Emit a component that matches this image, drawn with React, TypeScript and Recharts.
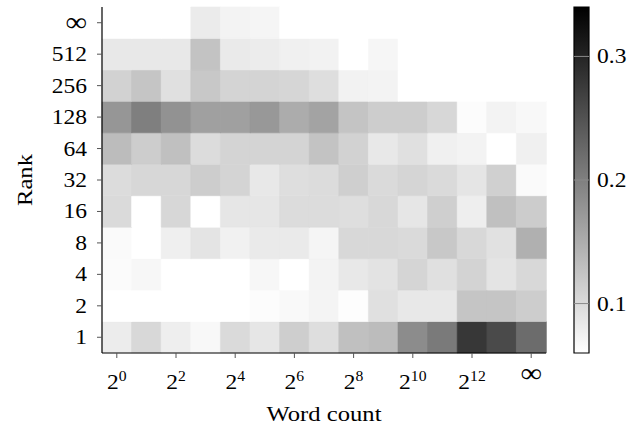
import React from 'react';
import { BarChart, Bar, XAxis, YAxis, Cell } from 'recharts';

// Word-count bins (exponent of 2, last is infinity)
const wordCountBins = ['0', '1', '2', '3', '4', '5', '6', '7', '8', '9', '10', '11', '12', '13', '∞'];
// Rank bins, bottom to top
const rankLabels = ['1', '2', '4', '8', '16', '32', '64', '128', '256', '512', '∞'];

// Cell values per rank row (one value per word-count bin)
const rank1 = [0.081, 0.103, 0.079, 0.068, 0.101, 0.087, 0.114, 0.096, 0.129, 0.134, 0.186, 0.206, 0.280, 0.259, 0.221];
const rank2 = [0.060, 0.060, 0.060, 0.060, 0.060, 0.063, 0.067, 0.072, 0.062, 0.094, 0.085, 0.085, 0.124, 0.124, 0.115];
const rank4 = [0.064, 0.069, 0.060, 0.060, 0.060, 0.069, 0.060, 0.073, 0.085, 0.091, 0.106, 0.094, 0.108, 0.090, 0.103];
const rank8 = [0.065, 0.060, 0.078, 0.090, 0.075, 0.083, 0.083, 0.071, 0.103, 0.103, 0.101, 0.120, 0.103, 0.093, 0.147];
const rank16 = [0.101, 0.060, 0.104, 0.060, 0.087, 0.087, 0.098, 0.098, 0.096, 0.103, 0.087, 0.113, 0.079, 0.129, 0.116];
const rank32 = [0.098, 0.104, 0.104, 0.115, 0.107, 0.085, 0.096, 0.098, 0.113, 0.101, 0.106, 0.101, 0.089, 0.112, 0.065];
const rank64 = [0.134, 0.115, 0.129, 0.098, 0.107, 0.107, 0.107, 0.126, 0.109, 0.085, 0.094, 0.076, 0.073, 0.060, 0.076];
const rank128 = [0.175, 0.201, 0.180, 0.164, 0.164, 0.173, 0.151, 0.161, 0.125, 0.115, 0.115, 0.104, 0.063, 0.073, 0.068];
const rank256 = [0.109, 0.124, 0.094, 0.120, 0.107, 0.107, 0.105, 0.096, 0.074, 0.073, 0.060, 0.060, 0.060, 0.060, 0.060];
const rank512 = [0.085, 0.085, 0.085, 0.126, 0.083, 0.081, 0.076, 0.074, 0.060, 0.070, 0.060, 0.060, 0.060, 0.060, 0.060];
const rankInf = [0.060, 0.060, 0.060, 0.082, 0.073, 0.071, 0.060, 0.060, 0.060, 0.060, 0.060, 0.060, 0.060, 0.060, 0.060];

const rankRows = [rank1, rank2, rank4, rank8, rank16, rank32, rank64, rank128, rank256, rank512, rankInf];

// Colour scale
const colorMin = 0.06;
const colorMax = 0.34;
const colorTicks = [0.1, 0.2, 0.3];

const FONT = "'Liberation Serif', 'Times New Roman', serif";
const SX = 1.12;

const shade = (v: number) => {
  const t = Math.min(1, Math.max(0, (v - colorMin) / (colorMax - colorMin)));
  const g = Math.round(255 * (1 - t));
  return `rgb(${g},${g},${g})`;
};

// one unit-height segment per rank, stacked
const heatData = wordCountBins.map((bin) => {
  const d: Record<string, any> = { bin };
  rankRows.forEach((_, ri) => {
    d[`r${ri}`] = 1;
  });
  return d;
});

const yTicks = rankLabels.map((_, i) => i + 0.5);

const XTick = (props: any) => {
  const { x, y, payload } = props;
  const v = String(payload.value);
  if (v === '∞') {
    return (
      <g transform={`translate(${x},${y + 24}) scale(${SX},1)`}>
        <text textAnchor="middle" fontFamily={FONT} fontSize={27} fill="#000">∞</text>
      </g>
    );
  }
  return (
    <g transform={`translate(${x},${y + 31}) scale(${SX},1)`}>
      <text textAnchor="middle" fontFamily={FONT} fontSize={21} fill="#000">
        2<tspan fontSize={14} dy={-8}>{v}</tspan>
      </text>
    </g>
  );
};

const YTick = (props: any) => {
  const { x, y, payload } = props;
  const idx = Math.floor(payload.value);
  const label = rankLabels[idx];
  if (label === '∞') {
    return (
      <g transform={`translate(${x - 10},${y + 8}) scale(${SX},1)`}>
        <text textAnchor="end" fontFamily={FONT} fontSize={27} fill="#000">∞</text>
      </g>
    );
  }
  return (
    <g transform={`translate(${x - 10},${y + 7}) scale(${SX},1)`}>
      <text textAnchor="end" fontFamily={FONT} fontSize={21} fill="#000">{label}</text>
    </g>
  );
};

const CbTick = (props: any) => {
  const { x, y, payload } = props;
  return (
    <g>
      <line x1={x - 15} x2={x} y1={y} y2={y} stroke="#8a8a8a" strokeWidth={1} />
      <g transform={`translate(${x + 8},${y + 7}) scale(${SX},1)`}>
        <text textAnchor="start" fontFamily={FONT} fontSize={21} fill="#000">{String(payload.value)}</text>
      </g>
    </g>
  );
};

const XLabel = (props: any) => {
  const vb = props.viewBox || {};
  const cx = vb.x + vb.width / 2;
  return (
    <g transform={`translate(${cx},421) scale(${SX},1)`}>
      <text textAnchor="middle" fontFamily={FONT} fontSize={22} fill="#000">Word count</text>
    </g>
  );
};

const YLabel = (props: any) => {
  return (
    <g transform={`translate(32,180) rotate(-90) scale(${SX},1)`}>
      <text textAnchor="middle" fontFamily={FONT} fontSize={22} fill="#000">Rank</text>
    </g>
  );
};

export default function App() {
  return (
    <div style={{ position: 'absolute', left: 0, top: 0, width: 642, height: 433, background: '#fff' }}>
      <div style={{ position: 'absolute', left: 0, top: 0 }}>
        <BarChart
          width={642}
          height={433}
          data={heatData}
          margin={{ top: 7, right: 96, bottom: 0, left: 0 }}
          barCategoryGap={0}
          barGap={0}
        >
          {rankRows.map((row, ri) => (
            <Bar key={ri} dataKey={`r${ri}`} stackId="s" isAnimationActive={false}>
              {row.map((v, ci) => (
                <Cell key={ci} fill={shade(v)} stroke={shade(v)} strokeWidth={0.6} />
              ))}
            </Bar>
          ))}
          <XAxis
            dataKey="bin"
            type="category"
            height={80}
            interval={1}
            tickSize={5}
            tickMargin={0}
            tickLine={{ stroke: '#555' }}
            axisLine={{ stroke: '#000', strokeWidth: 1.2 }}
            tick={<XTick />}
            label={{ content: <XLabel /> } as any}
          />
          <XAxis
            xAxisId="top"
            dataKey="bin"
            orientation="top"
            height={0}
            tick={false}
            tickLine={false}
            axisLine={{ stroke: '#000', strokeWidth: 1.2 }}
          />
          <YAxis
            type="number"
            domain={[0, rankLabels.length]}
            ticks={yTicks}
            width={102}
            interval={0}
            tickSize={5}
            tickMargin={0}
            tickLine={{ stroke: '#555' }}
            axisLine={{ stroke: '#000', strokeWidth: 1.2 }}
            tick={<YTick />}
            label={{ content: <YLabel /> } as any}
          />
          <YAxis
            yAxisId="right"
            orientation="right"
            type="number"
            domain={[0, rankLabels.length]}
            width={0}
            tick={false}
            tickLine={false}
            axisLine={{ stroke: '#000', strokeWidth: 1.2 }}
          />
        </BarChart>
      </div>
      <div style={{ position: 'absolute', left: 0, top: 0 }}>
        <BarChart
          width={642}
          height={433}
          data={[{ name: 'scale', span: [colorMin, colorMax] }]}
          margin={{ top: 7, right: 3, bottom: 80, left: 574 }}
          barCategoryGap={0}
        >
          <defs>
            <linearGradient id="cbGrad" x1="0" y1="0" x2="0" y2="1">
              <stop offset="0" stopColor={shade(colorMax)} />
              <stop offset="1" stopColor={shade(colorMin)} />
            </linearGradient>
          </defs>
          <XAxis dataKey="name" hide />
          <YAxis
            orientation="right"
            type="number"
            domain={[colorMin, colorMax]}
            ticks={colorTicks}
            width={50}
            tickSize={0}
            tickMargin={0}
            tickLine={false}
            axisLine={false}
            tick={<CbTick />}
          />
          <Bar dataKey="span" fill="url(#cbGrad)" stroke="#000" strokeWidth={1.2} isAnimationActive={false} />
        </BarChart>
      </div>
    </div>
  );
}
